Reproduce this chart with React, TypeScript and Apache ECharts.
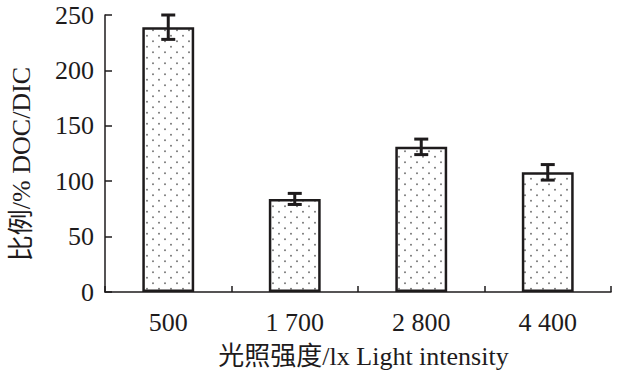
import React, { useEffect, useRef } from "react";
import * as echarts from "echarts";

const categories = ["500", "1 700", "2 800", "4 400"];
const ratioValues = [239, 84, 131, 108];
const ratioErrors = [11, 5, 7, 7];
const yTicks = { min: 0, max: 250, interval: 50 };

const FONT = "'Liberation Serif', 'Times New Roman', 'Noto Sans CJK SC', serif";
const INK = "#1e1b1c";

function makeDotPattern(): HTMLCanvasElement {
  const c = document.createElement("canvas");
  c.width = 12;
  c.height = 11;
  const ctx = c.getContext("2d")!;
  ctx.fillStyle = "#ffffff";
  ctx.fillRect(0, 0, 12, 11);
  ctx.fillStyle = "#6a6a6a";
  const dots = [
    [3, 2.75],
    [9, 8.25],
  ];
  for (const [x, y] of dots) {
    ctx.beginPath();
    ctx.arc(x, y, 0.9, 0, Math.PI * 2);
    ctx.fill();
  }
  return c;
}

export default function App() {
  const ref = useRef<HTMLDivElement>(null);

  useEffect(() => {
    if (!ref.current) return;
    const chart = echarts.init(ref.current, undefined, { renderer: "svg" });
    const pattern = makeDotPattern();

    const errData = categories.map((_, i) => [
      i,
      ratioValues[i] - ratioErrors[i],
      ratioValues[i] + ratioErrors[i],
    ]);

    chart.setOption({
      animation: false,
      backgroundColor: "#ffffff",
      grid: { left: 104, right: 15, top: 15, bottom: 89, containLabel: false },
      xAxis: {
        type: "category",
        data: categories,
        boundaryGap: true,
        name: "光照强度/lx Light intensity",
        nameLocation: "middle",
        nameGap: 51,
        nameTextStyle: {
          fontFamily: FONT,
          fontSize: 26,
          color: INK,
          padding: [0, 0, 0, 11],
        },
        axisLine: { show: true, lineStyle: { color: INK, width: 1.5 } },
        axisTick: { show: true, inside: true, length: 6, lineStyle: { color: INK, width: 1.5 } },
        axisLabel: { fontFamily: FONT, fontSize: 26, color: INK, margin: 17 },
        splitLine: { show: false },
      },
      yAxis: {
        type: "value",
        min: yTicks.min,
        max: yTicks.max,
        interval: yTicks.interval,
        name: "比例/% DOC/DIC",
        nameLocation: "middle",
        nameRotate: 90,
        nameGap: 71,
        nameTextStyle: {
          fontFamily: FONT,
          fontSize: 26,
          color: INK,
          padding: [0, 21, 0, 0],
        },
        axisLine: { show: true, lineStyle: { color: INK, width: 1.5 } },
        axisTick: { show: true, inside: true, length: 7, lineStyle: { color: INK, width: 1.5 } },
        axisLabel: { fontFamily: FONT, fontSize: 26, color: INK, margin: 11 },
        splitLine: { show: false },
      },
      series: [
        {
          type: "bar",
          data: ratioValues,
          barWidth: "41%",
          itemStyle: {
            color: { image: pattern, repeat: "repeat" },
            borderColor: INK,
            borderWidth: 2.5,
          },
        },
        {
          type: "custom",
          data: errData,
          z: 5,
          renderItem: (params: any, api: any) => {
            const x = api.value(0);
            const lo = api.coord([x, api.value(1)]);
            const hi = api.coord([x, api.value(2)]);
            const half = 7;
            const style = { stroke: INK, lineWidth: 3 };
            return {
              type: "group",
              children: [
                { type: "line", shape: { x1: lo[0], y1: lo[1], x2: hi[0], y2: hi[1] }, style },
                { type: "line", shape: { x1: hi[0] - half, y1: hi[1], x2: hi[0] + half, y2: hi[1] }, style },
                { type: "line", shape: { x1: lo[0] - half, y1: lo[1], x2: lo[0] + half, y2: lo[1] }, style },
              ],
            };
          },
        },
      ],
    });

    return () => chart.dispose();
  }, []);

  return (
    <div
      ref={ref}
      style={{ position: "fixed", left: 0, top: 0, width: 626, height: 381, background: "#fff" }}
    />
  );
}
